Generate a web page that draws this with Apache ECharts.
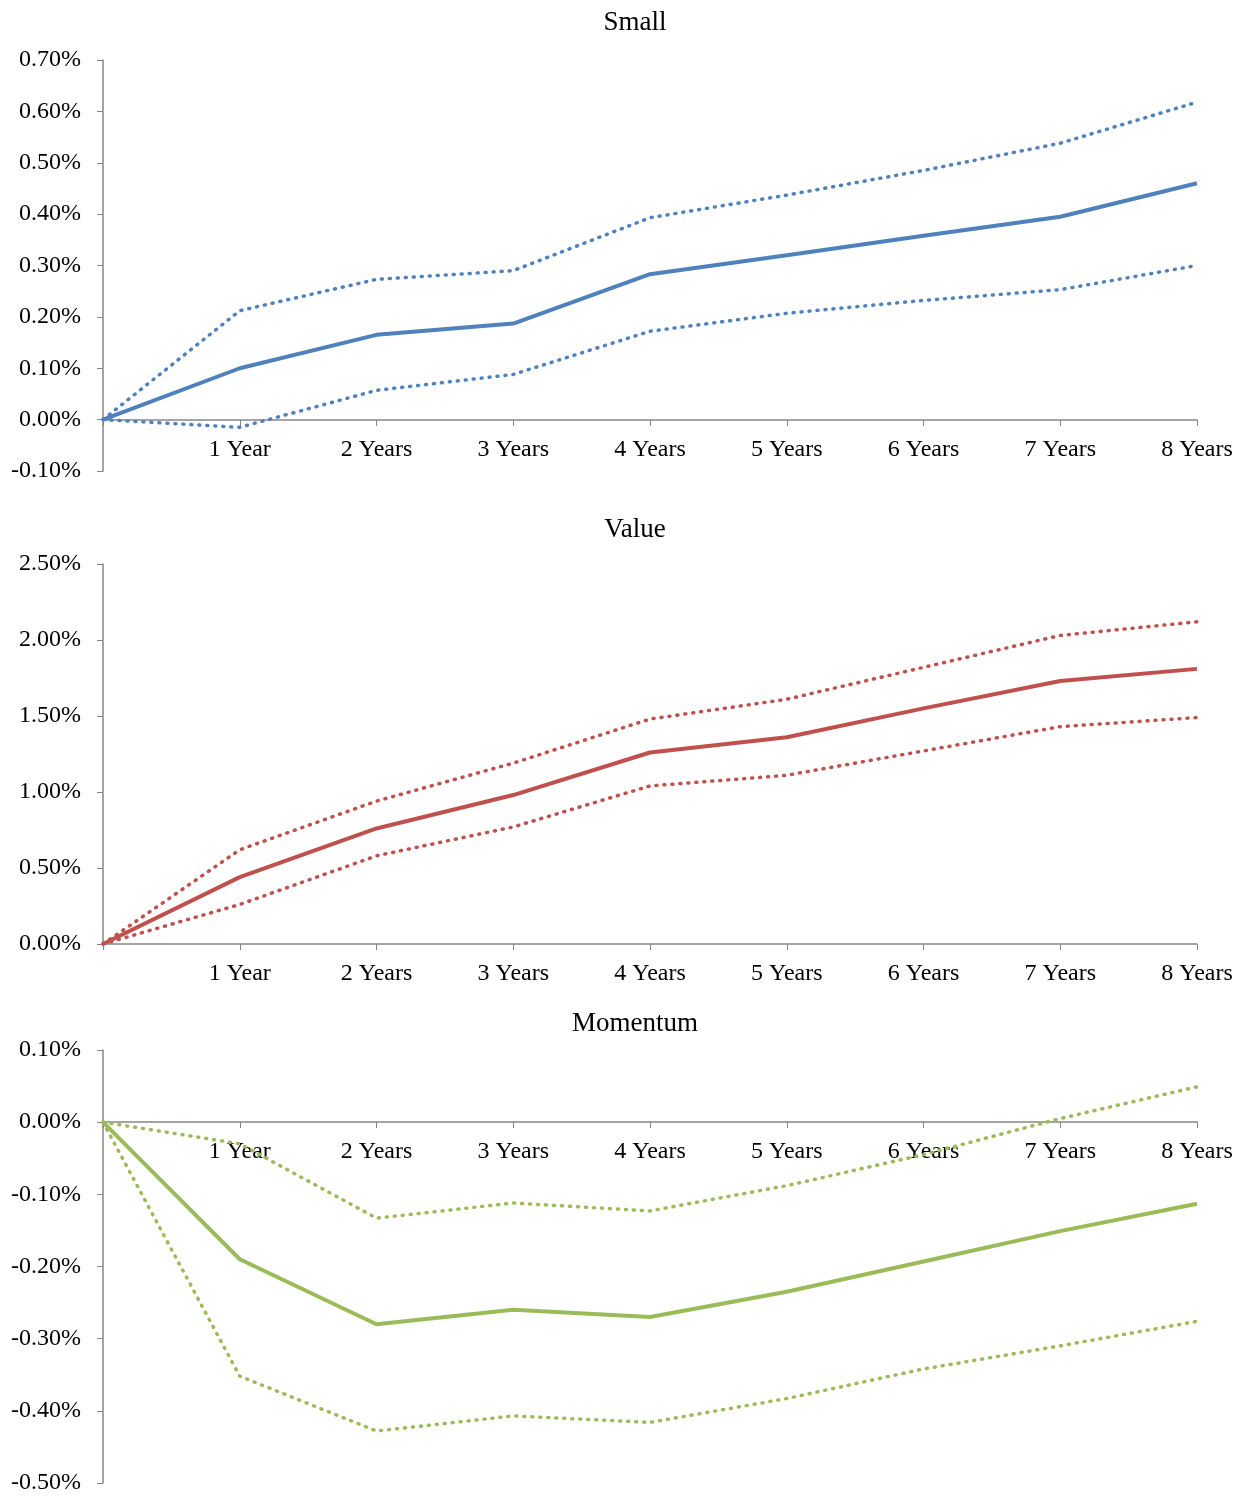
<!DOCTYPE html>
<html>
<head>
<meta charset="utf-8">
<script src="https://cdn.jsdelivr.net/npm/echarts@6/dist/echarts.min.js"></script>
<style>
  html, body { margin: 0; padding: 0; background: #fff; }
  #chart { width: 1247px; height: 1497px; }
</style>
</head>
<body>
<div id="chart"></div>
<script>
const xLabels = ['', '1 Year', '2 Years', '3 Years', '4 Years', '5 Years', '6 Years', '7 Years', '8 Years'];

const smallMid = [0, 0.100, 0.165, 0.187, 0.283, 0.320, 0.358, 0.395, 0.460];
const smallHigh = [0, 0.212, 0.273, 0.290, 0.393, 0.437, 0.485, 0.538, 0.618];
const smallLow = [0, -0.015, 0.057, 0.088, 0.172, 0.207, 0.232, 0.253, 0.300];

const valueMid = [0, 0.44, 0.76, 0.98, 1.26, 1.36, 1.55, 1.73, 1.81];
const valueHigh = [0, 0.62, 0.94, 1.19, 1.48, 1.61, 1.82, 2.03, 2.12];
const valueLow = [0, 0.26, 0.58, 0.77, 1.04, 1.11, 1.27, 1.43, 1.49];

const momMid = [0, -0.190, -0.280, -0.260, -0.270, -0.235, -0.193, -0.151, -0.113];
const momHigh = [0, -0.030, -0.133, -0.112, -0.123, -0.088, -0.045, 0.005, 0.049];
const momLow = [0, -0.352, -0.428, -0.407, -0.416, -0.383, -0.342, -0.310, -0.276];

const panels = [
  { title: 'Small', top: 60, height: 411, min: -0.1, max: 0.7, interval: 0.1, color: '#4f81bd', mid: smallMid, high: smallHigh, low: smallLow, titleTop: 4, zeroOffset: -51 },
  { title: 'Value', top: 564, height: 380, min: 0, max: 2.5, interval: 0.5, color: '#c0504d', mid: valueMid, high: valueHigh, low: valueLow, titleTop: 511, zeroOffset: 0 },
  { title: 'Momentum', top: 1050, height: 433, min: -0.5, max: 0.1, interval: 0.1, color: '#9bbb59', mid: momMid, high: momHigh, low: momLow, titleTop: 1005, zeroOffset: -361 }
];

const font = 'Liberation Serif, Times New Roman, serif';
const axisColor = '#868686';

const option = {
  animation: false,
  backgroundColor: '#fff',
  title: panels.map(p => ({
    text: p.title, left: 630, top: p.titleTop, textAlign: 'center',
    textStyle: { fontFamily: font, fontSize: 27, fontWeight: 'normal', color: '#000' }
  })),
  grid: panels.map(p => ({ left: 103, right: 50, top: p.top, height: p.height })),
  xAxis: panels.map((p, i) => ({
    type: 'value', gridIndex: i, min: 0, max: 8, interval: 1,
    offset: p.zeroOffset,
    axisLine: { onZero: false, lineStyle: { color: axisColor, width: 1.5 } },
    axisTick: { show: true, length: 6, lineStyle: { color: axisColor } },
    axisLabel: { formatter: v => xLabels[v] || '', fontFamily: font, fontSize: 24, color: '#000', margin: 18 },
    splitLine: { show: false }
  })),
  yAxis: panels.map((p, i) => ({
    type: 'value', gridIndex: i, min: p.min, max: p.max, interval: p.interval,
    axisLine: { show: true, lineStyle: { color: axisColor, width: 1.5 } },
    axisTick: { show: true, length: 6, lineStyle: { color: axisColor } },
    axisLabel: { formatter: v => v.toFixed(2) + '%', fontFamily: font, fontSize: 24, color: '#000', margin: 22 },
    splitLine: { show: false }
  })),
  series: []
};

panels.forEach((p, i) => {
  const mk = (arr, dotted) => ({
    type: 'line', xAxisIndex: i, yAxisIndex: i, symbol: 'none',
    data: arr.map((v, k) => [k, v]),
    lineStyle: dotted
      ? { color: p.color, width: 3.5, type: [1, 7], cap: 'round' }
      : { color: p.color, width: 4 }
  });
  option.series.push(mk(p.high, true), mk(p.low, true), mk(p.mid, false));
});

echarts.init(document.getElementById('chart')).setOption(option);
</script>
</body>
</html>
